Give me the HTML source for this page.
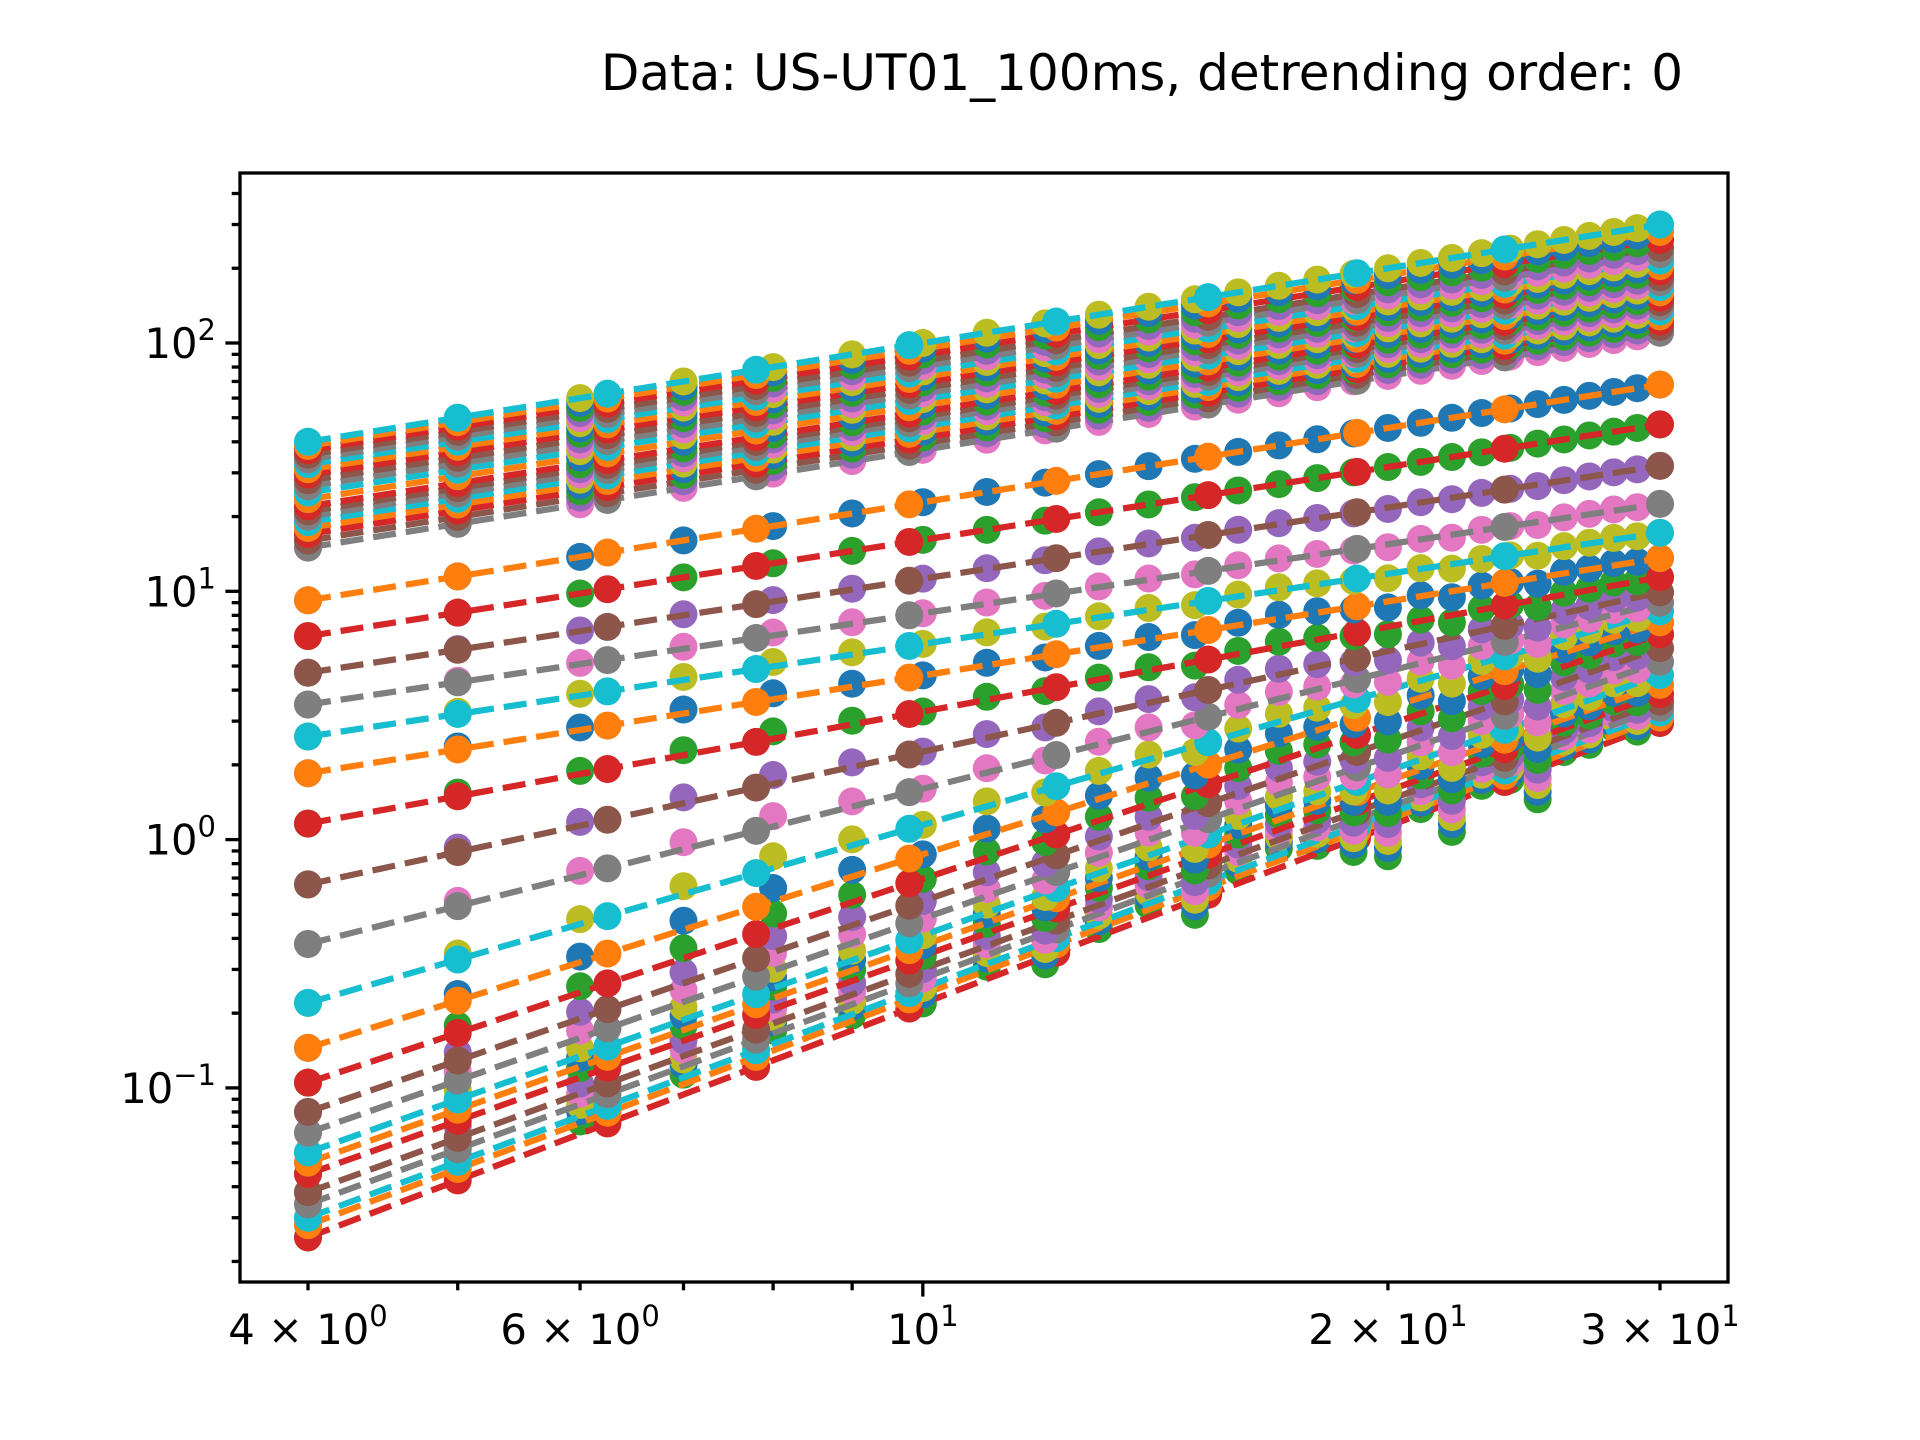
<!DOCTYPE html>
<html><head><meta charset="utf-8"><style>
html,body{margin:0;padding:0;background:#fff}
svg{display:block}
text{font-family:"DejaVu Sans","Liberation Sans",sans-serif;fill:#000}
</style></head><body>
<svg id="chart" width="1920" height="1440" viewBox="0 0 1920 1440" xmlns="http://www.w3.org/2000/svg">
<rect width="1920" height="1440" fill="#fff"/>
<text x="1142" y="90" font-size="50" text-anchor="middle">Data: US-UT01_100ms, detrending order: 0</text>
<g id="plot"></g>
<g id="axes"></g>
</svg>
<script>
// ---- data ----
const scales = [4,5,6,7,8,9,10,11,12,13,14,15,16,17,18,19,20,21,22,23,24,25,26,27,28,29,30];
const fitScales = [4,5,6.25,7.8,9.8,12.2,15.3,19.1,23.8,30];
const startVals = [0.025,0.028,0.03,0.034,0.038,0.045,0.05,0.055,0.066,0.08,0.105,0.145,0.22,0.38,0.66,1.16,1.85,2.6,3.5,4.7,6.6,9.2,15,16,17,18,19,20,21,22,23.5,25,26.5,28,29.5,31,32.5,34,35.5,37,38.5,40];
const endVals = [2.95,3.1,3.25,3.4,3.6,3.85,4.2,4.6,5.2,5.9,6.7,7.5,8.3,9.0,9.9,11.4,13.6,17.2,22.5,32,47,68,110,116,122,128,134,140,146,152,160,168,176,184,194,204,215,228,242,260,280,300];
const scaleDev = [0,0.06,0.05,0.08,0.12,0.06,0,0.05,-0.03,0.03,0.05,-0.06,0.05,0.08,0.03,-0.05,-0.12,0.02,-0.12,0.02,0.0,-0.12,0.03,0.02,0.05,0.0,0];
const xTickVals = [4,6,10,20,30];
const xTickLabels = [["4","0"],["6","0"],["","1"],["2","1"],["3","1"]];
const yTickExps = [-1,0,1,2];
const palette = ["#1f77b4","#ff7f0e","#2ca02c","#d62728","#9467bd","#8c564b","#e377c2","#7f7f7f","#bcbd22","#17becf"];

// ---- axes ----
const L=240,R=1728,T=173,B=1282;
const X0=308,X1=1660,lx0=Math.log10(4),lx1=Math.log10(30);
const xs=v=>X0+(Math.log10(v)-lx0)/(lx1-lx0)*(X1-X0);
const YD=248.3,Y2=343;
const ys=v=>Y2-(Math.log10(v)-2)*YD;
const NS="http://www.w3.org/2000/svg";
function mk(tag,attrs,parent){const e=document.createElementNS(NS,tag);for(const k in attrs)e.setAttribute(k,attrs[k]);parent.appendChild(e);return e;}
const plot=document.getElementById('plot'),axes=document.getElementById('axes');
mk('clipPath',{id:'clip'},plot);
mk('rect',{x:L,y:T,width:R-L,height:B-T},document.getElementById('clip'));
const g=mk('g',{'clip-path':'url(#clip)'},plot);
const N=startVals.length;
for(let k=0;k<N;k++){
  const c0=k<22?3:1;
  const li=(((c0-2*k)%10)+100)%10;
  const a=Math.log10(startVals[k]),b=Math.log10(endVals[k]);
  const slope=(b-a)/(lx1-lx0);
  const fit=v=>Math.pow(10,a+slope*(Math.log10(v)-lx0));
  const w=Math.max(0,1-k/20);
  const dc=palette[(li+9)%10],lc=palette[li];
  const sg=mk('g',{},g);
  
  
  scales.forEach((s,i)=>{
    const c=mk('circle',{cx:xs(s),cy:ys(fit(s)*Math.pow(10,scaleDev[i]*w)),r:14,fill:dc},sg);
    
    
  });
  const pts=fitScales.map(s=>xs(s)+','+ys(fit(s))).join(' ');
  const pl=mk('polyline',{points:pts,fill:'none',stroke:lc,'stroke-width':6.25,'stroke-dasharray':'23,10'},sg);
  
  
  fitScales.forEach(s=>{
    const c=mk('circle',{cx:xs(s),cy:ys(fit(s)),r:14,fill:lc},sg);
    
    
  });
}
// frame
const fr=mk('rect',{x:L,y:T,width:R-L,height:B-T,fill:'none',stroke:'#000','stroke-width':3.3},axes);


// x ticks
for(let v=4;v<=30;v+=(v<10?1:10)){
  const major=v===10;
  const t=mk('line',{x1:xs(v),x2:xs(v),y1:B,y2:B+(major?14.6:8.3),stroke:'#000','stroke-width':3.3},axes);
  
  
}
xTickVals.forEach((v,i)=>{
  const [m,e]=xTickLabels[i];
  const t=mk('text',{x:xs(v),y:B+62,'font-size':41.7,'text-anchor':'middle'},axes);
  
  
  t.innerHTML=(m?m+' \u00d7 ':'')+'10<tspan dy="-18" font-size="29">'+e+'</tspan>';
});
// y ticks
for(let d=-2;d<=2;d++){
  for(let m=1;m<=9;m++){
    const v=m*Math.pow(10,d),y=ys(v);
    if(y<T||y>B)continue;
    const t=mk('line',{x1:L,x2:L-(m===1?14.6:8.3),y1:y,y2:y,stroke:'#000','stroke-width':3.3},axes);
    
    
  }
}
yTickExps.forEach(e=>{
  const t=mk('text',{x:L-24,y:ys(Math.pow(10,e))+15,'font-size':41.7,'text-anchor':'end'},axes);
  
  
  t.innerHTML='10<tspan dy="-18" font-size="29">'+(e<0?'\u2212'+(-e):e)+'</tspan>';
});
</script>
</body></html>
